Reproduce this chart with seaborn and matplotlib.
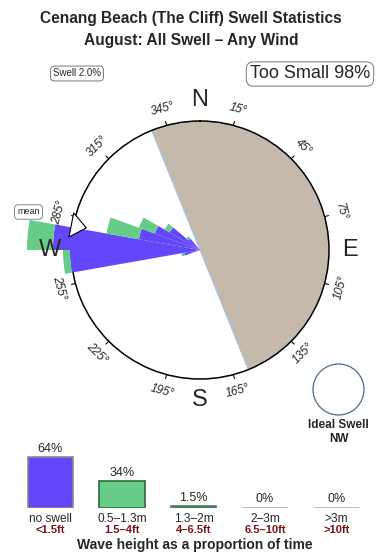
import numpy as np
import pandas as pd
import matplotlib
matplotlib.use("Agg")
import matplotlib.pyplot as plt
from matplotlib.patches import Ellipse
import seaborn as sns

# ---------------- data ----------------
title_lines = ["Cenang Beach (The Cliff) Swell Statistics", "August: All Swell \u2013 Any Wind"]
swell_label = "Swell 2.0%"
too_small_label = "Too Small 98%"

# swell rose: 10-degree direction bins (centres), radial lengths (circle = 129)
dir_bins = [255, 265, 275, 285, 295, 305, 315]
no_swell_len = [16, 130, 147, 62, 48, 35, 15]
small_swell_len = [3, 7, 26, 33, 17, 6, 3]
rose_rmax = 129
land_start, land_width = 338, 180       # shaded land sector (clockwise)
mean_dir = 281
ideal_dir = "NW"
degree_ticks = [15, 45, 75, 105, 135, 165, 195, 225, 255, 285, 315, 345]
compass_pts = ["N", "E", "S", "W"]
compass_deg = [0, 90, 180, 270]

# wave-height proportions
height_m = ["no swell", "0.5\u20131.3m", "1.3\u20132m", "2\u20133m", ">3m"]
height_ft = ["<1.5ft", "1.5\u20134ft", "4\u20136.5ft", "6.5\u201310ft", ">10ft"]
height_pct = [64, 34, 1.5, 0, 0]
pct_text = ["64%", "34%", "1.5%", "0%", "0%"]

# ---------------- style ----------------
sns.set_theme(style="white")
plt.rcParams["font.family"] = ["Liberation Sans", "DejaVu Sans"]

BLUE = "#6347fa"
GREEN = "#66cc88"
LAND = "#c5b9ac"
DARKRED = "#7a1414"

W, H = 390, 560
fig = plt.figure(figsize=(W / 100, H / 100), dpi=100)
fig.patch.set_facecolor("white")


def fx(px):
    return px / W


def fy(py):
    return 1 - py / H


# titles
fig.text(fx(191), fy(19), title_lines[0], ha="center", va="center", fontsize=11.2, fontweight="bold")
fig.text(fx(191), fy(41), title_lines[1], ha="center", va="center", fontsize=11.2, fontweight="bold")
fig.text(fx(77), fy(73.5), swell_label, ha="center", va="center", fontsize=7,
         bbox=dict(boxstyle="round,pad=0.25,rounding_size=0.4", fc="white", ec="#777777", lw=0.7))
fig.text(fx(310), fy(74), too_small_label, ha="center", va="center", fontsize=13,
         bbox=dict(boxstyle="round,pad=0.2,rounding_size=0.4", fc="white", ec="#777777", lw=0.7))

# ---------------- rose ----------------
cx, cy, R = 200, 250, 129
ax = fig.add_axes([fx(cx - R), fy(cy + R), 2 * R / W, 2 * R / H], projection="polar")
ax.set_theta_zero_location("N")
ax.set_theta_direction(-1)
ax.set_ylim(0, rose_rmax)
ax.set_xticks([])
ax.set_yticks([])
ax.grid(False)
ax.set_facecolor("white")
ax.spines["polar"].set_color("black")
ax.spines["polar"].set_linewidth(1.1)

land_mid = land_start + land_width / 2
ax.bar(np.deg2rad(land_mid), rose_rmax, width=np.deg2rad(land_width), color=LAND,
       edgecolor="none", zorder=1)
ax.plot([np.deg2rad(land_start)] * 2 + [np.deg2rad(land_start + land_width)] * 2,
        [rose_rmax, 0, 0, rose_rmax], color="#9fc3e6", lw=0.8, zorder=1.5)

th = np.deg2rad(dir_bins)
ax.bar(th, no_swell_len, width=np.deg2rad(10), color=BLUE, edgecolor="none",
       zorder=3, clip_on=False)
ax.bar(th, small_swell_len, bottom=no_swell_len, width=np.deg2rad(10), color=GREEN,
       edgecolor="none", zorder=3, clip_on=False)

for d in degree_ticks:
    t = np.deg2rad(d)
    ax.plot([t, t], [rose_rmax, rose_rmax + 4], color="black", lw=0.8, clip_on=False, zorder=4)
    if d < 90:
        rot = -d
    elif d < 270:
        rot = 180 - d
    else:
        rot = 360 - d
    ax.text(t, rose_rmax + 17, f"{d}\u00b0", rotation=rot, rotation_mode="anchor",
            ha="center", va="center", fontsize=8.5, style="italic", clip_on=False)

for lab, d in zip(compass_pts, compass_deg):
    ax.text(np.deg2rad(d), rose_rmax + 21, lab, ha="center", va="center", fontsize=17,
            clip_on=False, zorder=5)

tm = np.deg2rad(mean_dir)
ax.annotate("", xy=(tm, 113), xytext=(tm, 133),
            arrowprops=dict(arrowstyle="simple,head_width=1.6,head_length=1.0,tail_width=0.8",
                            mutation_scale=11, fc="white", ec="black", lw=0.8),
            annotation_clip=False, zorder=6)
fig.text(fx(28.5), fy(212), "mean", ha="center", va="center", fontsize=6.5,
         bbox=dict(boxstyle="round,pad=0.3,rounding_size=0.4", fc="white", ec="#777777", lw=0.6))

# ideal swell marker
fig.add_artist(Ellipse((fx(338.5), fy(389.5)), width=51 / W, height=51 / H,
                       transform=fig.transFigure, fill=False, ec="#4d6b8a", lw=0.9))
fig.text(fx(338.5), fy(425), "Ideal Swell", ha="center", va="center", fontsize=8.5, fontweight="bold")
fig.text(fx(338.5), fy(439), ideal_dir, ha="center", va="center", fontsize=8.5, fontweight="bold")

# ---------------- height bars ----------------
step = 71.5
left = 50.5 - step / 2
base_y = 507.5
ymax = 80
px_per = 50.5 / 64
axb = fig.add_axes([fx(left), fy(base_y), 5 * step / W, ymax * px_per / H])
df = pd.DataFrame({"height": height_m, "pct": height_pct})
bar_fill = [BLUE, GREEN, "#4f8a60", "#a9b39d", "#c8aaa8"]
bar_edge = ["#8a8a8a", "#2f6a40", "#4f7a5a", "#a9b39d", "#c8aaa8"]
sns.barplot(data=df, x="height", y="pct", hue="height", palette=bar_fill, saturation=1,
            width=0.63, legend=False, ax=axb)
for p, ec in zip(axb.patches, bar_edge):
    p.set_edgecolor(ec)
    p.set_linewidth(1.2)
axb.set_xlim(-0.5, 4.5)
axb.set_ylim(0, ymax)
axb.axis("off")
for i, (v, t) in enumerate(zip(height_pct, pct_text)):
    axb.text(i, v + 5 / px_per, t, ha="center", va="baseline", fontsize=9, clip_on=False)
    axb.text(i, -15 / px_per, height_m[i], ha="center", va="baseline", fontsize=8.6, clip_on=False)
    axb.text(i, -25.3 / px_per, height_ft[i], ha="center", va="baseline", fontsize=8,
             fontweight="bold", color=DARKRED, clip_on=False)

fig.text(fx(195), fy(545), "Wave height as a proportion of time", ha="center", va="center",
         fontsize=10, fontweight="bold")

fig.savefig("out.png", dpi=100, facecolor="white")
